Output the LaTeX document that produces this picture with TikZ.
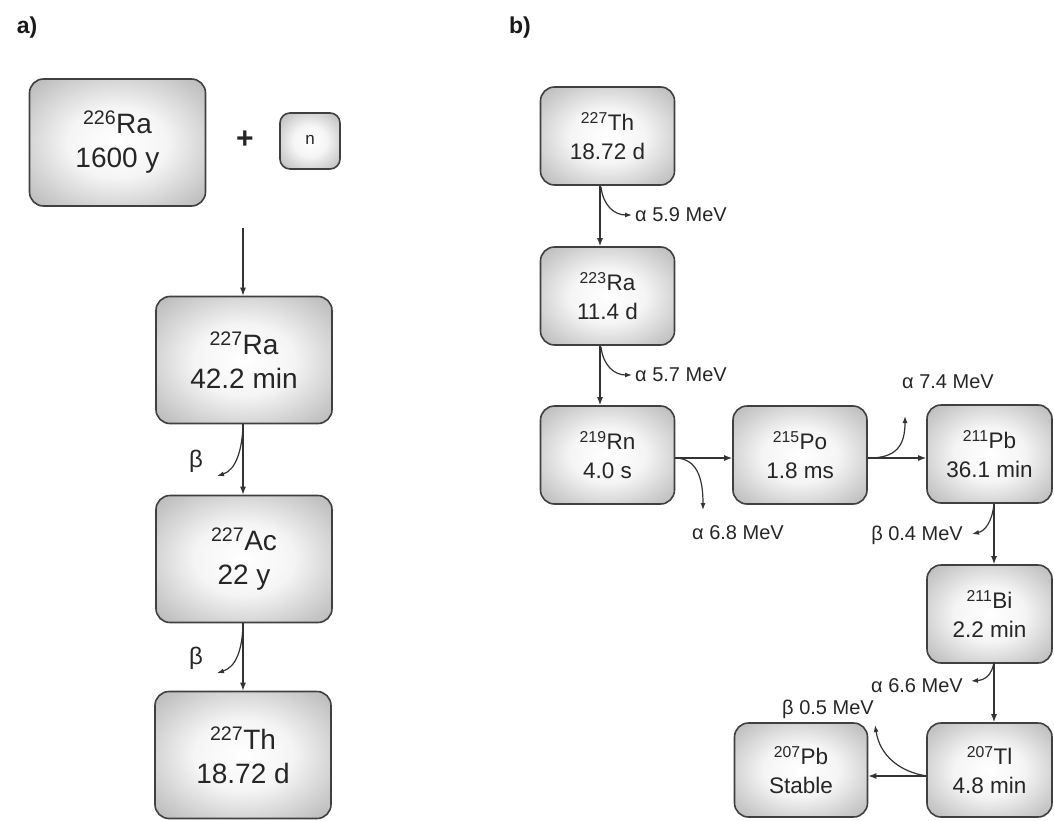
\documentclass[tikz,border=0pt]{standalone}
\usepackage{fontspec}
\setmainfont{Liberation Sans}
\usetikzlibrary{arrows.meta}
\pgfdeclareradialshading{boxshade}{\pgfpoint{0bp}{0bp}}{color(0bp)=(white); color(14bp)=(white!96!black); color(50bp)=(black!45)}
\begin{document}
\begin{tikzpicture}[x=1pt,y=-1pt,
  nbox/.style={draw=black!75, line width=1.6pt, rounded corners=14pt, shade, shading=boxshade, align=center, text=black!85, inner sep=0pt},
  bigbox/.style={nbox, minimum width=176pt, minimum height=127pt, font=\fontsize{28}{34}\selectfont},
  smallbox/.style={nbox, minimum width=134pt, minimum height=98pt, font=\fontsize{22.5}{29}\selectfont},
  conn/.style={draw=black!80, line width=1.3pt, -{Latex[length=8pt,width=6pt]}},
  branch/.style={draw=black!80, line width=1.2pt, -{Latex[length=7pt,width=5pt]}},
  lbl/.style={text=black!85, font=\fontsize{20}{22}\selectfont, inner sep=1pt},
  blbl/.style={text=black!85, font=\fontsize{24}{26}\selectfont, inner sep=1pt},
  panel/.style={font=\fontsize{23}{26}\selectfont\bfseries, text=black!90}
]
\useasboundingbox (0,0) rectangle (1054,821);
% panel labels
\node[panel] (pa) at (27,28) {a)};
\node[panel] (pb) at (520,28) {b)};
% ---------- a)
\node[bigbox] (ra226) at (117.5,142.5) {\textsuperscript{226}Ra\\1600 y};
\node[font=\fontsize{30}{30}\selectfont\bfseries, text=black!85] (plus) at (245,140) {+};
\node[nbox, minimum width=60pt, minimum height=56pt, rounded corners=10pt, font=\fontsize{17}{17}\selectfont] (n) at (310,141) {\raisebox{3pt}{n}};
\node[bigbox] (ra227) at (244,360) {\textsuperscript{227}Ra\\42.2 min};
\node[bigbox] (ac227) at (244,559) {\textsuperscript{227}Ac\\22 y};
\node[bigbox] (th227a) at (243,755) {\textsuperscript{227}Th\\18.72 d};
\coordinate (astart) at (243,228);
\draw[conn] (astart) -- (ra227.north -| astart);
\draw[conn] (ra227.south -| astart) -- (ac227.north -| astart);
\draw[conn] (ac227.south -| astart) -- (th227a.north -| astart);
\coordinate (ab1e) at (217,476);
\draw[branch] (243,426) .. controls (242,450) and (236,470) .. (ab1e);
\node[blbl] (beta1) at (196,461) {β};
\coordinate (ab2e) at (217,673);
\draw[branch] (243,626) .. controls (242,650) and (236,667) .. (ab2e);
\node[blbl] (beta2) at (196,658) {β};
% ---------- b)
\node[smallbox] (th227) at (607.5,136) {\textsuperscript{227}Th\\18.72 d};
\node[smallbox] (ra223) at (607.5,296) {\textsuperscript{223}Ra\\11.4 d};
\node[smallbox] (rn219) at (607.5,455) {\textsuperscript{219}Rn\\4.0 s};
\node[smallbox] (po215) at (800,455) {\textsuperscript{215}Po\\1.8 ms};
\node[smallbox, minimum width=125pt] (pb211) at (989.5,454) {\textsuperscript{211}Pb\\36.1 min};
\node[smallbox, minimum width=125pt] (bi211) at (989.5,614) {\textsuperscript{211}Bi\\2.2 min};
\node[smallbox, minimum width=125pt, minimum height=94pt] (tl207) at (989.5,770) {\textsuperscript{207}Tl\\4.8 min};
\node[smallbox, minimum width=133pt, minimum height=94pt] (pb207) at (801,770) {\textsuperscript{207}Pb\\Stable};
% main chain
\coordinate (bx) at (600,0);
\coordinate (bx2) at (994,0);
\coordinate (hy1) at (0,458);
\coordinate (hy2) at (0,776);
\draw[conn] (th227.south -| bx) -- (ra223.north -| bx);
\draw[conn] (ra223.south -| bx) -- (rn219.north -| bx);
\draw[conn] (rn219.east |- hy1) -- (po215.west |- hy1);
\draw[conn] (po215.east |- hy1) -- (pb211.west |- hy1);
\draw[conn] (pb211.south -| bx2) -- (bi211.north -| bx2);
\draw[conn] (bi211.south -| bx2) -- (tl207.north -| bx2);
\draw[conn] (tl207.west |- hy2) -- (pb207.east |- hy2);
% branches
\coordinate (e1) at (632,215);
\draw[branch] (601,187) .. controls (603,205) and (614,215) .. (e1);
\node[lbl, anchor=west] (l1) at (634,215) {α 5.9 MeV};
\coordinate (e2) at (632,375);
\draw[branch] (601,347) .. controls (603,365) and (614,375) .. (e2);
\node[lbl, anchor=west] (l2) at (634,375) {α 5.7 MeV};
\coordinate (e3) at (703,510);
\draw[branch] (676,458) .. controls (696,459) and (703,476) .. (e3);
\node[lbl] (l3) at (738,533) {α 6.8 MeV};
\coordinate (e4) at (905,416);
\draw[branch] (869,458) .. controls (896,458) and (905,446) .. (e4);
\node[lbl] (l4) at (948,382) {α 7.4 MeV};
\coordinate (e5) at (972,534);
\draw[branch] (994,504) .. controls (992,522) and (985,531) .. (e5);
\node[lbl, anchor=east] (l5) at (964,535) {β 0.4 MeV};
\coordinate (e6) at (971,681);
\draw[branch] (994,662) .. controls (992,675) and (985,680) .. (e6);
\node[lbl, anchor=east] (l6) at (964,686) {α 6.6 MeV};
\coordinate (e7) at (875,725);
\draw[branch] (927,776) .. controls (900,772) and (880,756) .. (e7);
\node[lbl] (l7) at (828,709) {β 0.5 MeV};
\end{tikzpicture}
\end{document}
